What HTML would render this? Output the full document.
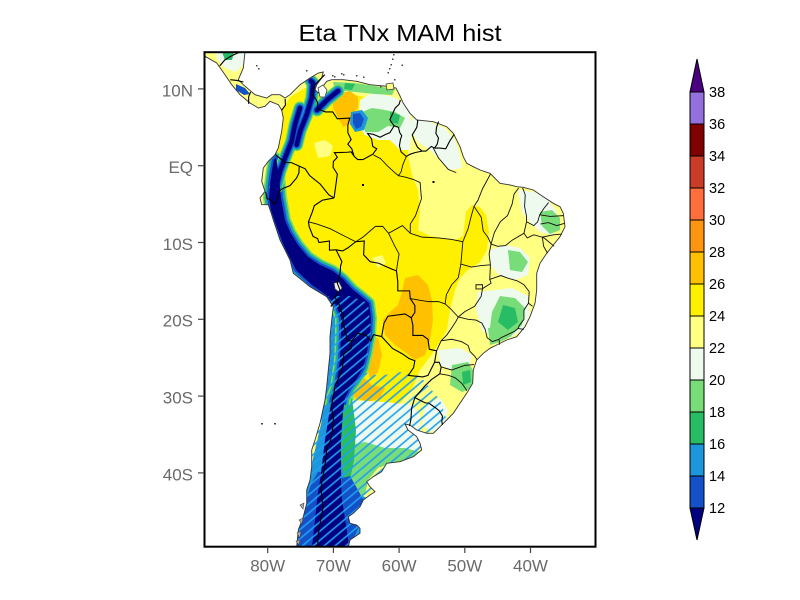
<!DOCTYPE html>
<html><head><meta charset="utf-8"><style>
html,body{margin:0;padding:0;background:#fff}
svg{display:block}
.geo path{vector-effect:non-scaling-stroke;fill:none;stroke:#000;stroke-width:1.1}
.st path{vector-effect:non-scaling-stroke;fill:none;stroke:#111;stroke-width:0.9}
</style></head><body>
<svg width="800" height="600" viewBox="0 0 800 600" xmlns="http://www.w3.org/2000/svg">
<rect width="800" height="600" fill="#fff"/>
<defs>
<clipPath id="fr"><rect x="205" y="53" width="390" height="493"/></clipPath>
<clipPath id="north"><rect x="200" y="40" width="400" height="365"/></clipPath>
<clipPath id="land"><path id="landp" d="M204,52 L245,52 L243.3,68 L238.3,79.7 L243.3,84.7 L255,94.7 L266.7,98 L271.7,94.7 L280,94.7 L285,98 L290,94.7 L300,84.7 L310,78 L318.3,73 L323.3,72 L321.7,78 L316.7,84.7 L315,89.7 L318.3,93 L321.7,88 L326.7,81.3 L331.7,79.7 L343.3,79.7 L356.7,81.3 L370,84.7 L386.7,86.3 L396,88 L400,96 L403.3,103.3 L410,113.3 L416.7,120 L433.3,121.7 L446.7,126.7 L453.3,133.3 L460,146.7 L463.3,156.7 L466.7,163.3 L473.3,166.7 L480,170 L490,173.3 L500,183.3 L510,185 L516.7,186.7 L523.3,187.3 L533.3,190 L543.3,196.7 L553.3,203.3 L560,206.7 L563.3,213.3 L565,226.7 L560,236.7 L553.3,245 L546.7,253.3 L540,263.3 L536.7,273.3 L536.7,290 L535,303.3 L530,316.7 L525,326.7 L516.7,336.7 L506.7,340 L496.7,345 L490,348.3 L483.3,353.3 L476.7,360 L473.3,370 L472.7,383.3 L466.7,393.3 L460,403.3 L453.3,413.3 L446.7,420 L440,426.7 L433.3,433.3 L426.7,433.3 L416.7,430 L410,425 L405,424 L408,430 L416.7,436.7 L420,443.3 L421.7,450 L413.3,456.7 L400,461.7 L386.7,463.3 L381.7,471.7 L373.3,476.7 L366.7,481.7 L370,486.7 L375,491.7 L370,495 L363.3,500 L360,506.7 L353.3,513.3 L348.3,516.7 L350,523.3 L356.7,525 L360,528.3 L360,533.3 L350,540 L348.3,547 L296.7,547 L298.3,530 L303.3,516.7 L306.7,503.3 L306.7,490 L310,480 L311.7,466.7 L311.7,450 L315,440 L320,423.3 L325,400 L326.7,386.7 L328.3,370 L330,353.3 L330,336.7 L331.7,320 L333.3,306.7 L326.7,296.7 L310,286.7 L303,281 L293.3,273.3 L290,260 L280,240 L273.3,220 L271.7,214.7 L268.3,204.7 L261.7,204.7 L260,198 L265,191.3 L261.7,181.3 L263.3,168 L268.3,161.3 L275,154.7 L278.3,148 L281.7,131.3 L283.3,118 L281.7,110 L278.3,104.7 L270,101.3 L265,106.3 L258.3,108 L250,103 L240,94.7 L231.7,84.7 L225,74.7 L216.7,63 L205,56.3 L204,56 Z"/></clipPath>
<pattern id="hatch" patternUnits="userSpaceOnUse" width="20" height="7" patternTransform="rotate(-40)"><rect x="0" y="2.7" width="20" height="1.6" fill="#1ea0f0"/></pattern>
<path id="andes" d="M276,158 L279,175 L281,198 L285,220 L290,232 L298,245 L308,257 L320,265 L333,271 L343,279 L352,289 L362,297 L369,303 L371,318 L370,335 L367,352 L363,368 L356,380 L350,388 L345,398 L343,412 L341,440 L341,470 L342,500 L346,525 L349,547 L312,547 L315,520 L317,500 L320,480 L322,465 L325,440 L329,415 L332,398 L336,387 L340,360 L341,335 L341,318 L336,305 L325,294 L312,285 L296,270 L290,258 L284,246 L279,233 L275,222 L271,210 L269,198 L270,185 L272,170 L274,160 Z"/>
<g id="bands">
<path d="M313,84 L311.7,98 L306.7,114.7 L300,131.3 L296.7,144.7"/>
<path d="M300,108 L295,124.7 L291.7,141.3 L285,158 L280,171.3 L276,188"/>
<path d="M317,110 L327,100 L338,91"/>
<path d="M311,81 L313,83"/>
</g>
</defs>

<text x="400" y="41" text-anchor="middle" font-family="Liberation Sans, sans-serif" font-size="23" textLength="203" lengthAdjust="spacingAndGlyphs" fill="#000">Eta TNx MAM hist</text>

<g clip-path="url(#fr)">
<g clip-path="url(#land)">
<rect x="200" y="50" width="400" height="500" fill="#ffff82"/>
<!-- yellow 24-26 -->
<path fill="#fff000" d="M281,112 L290,97 L305,88 L318,88 L328,96 L345,92 L360,96 L372,98 L385,100 L398,108 L405,118 L407,135 L408,155 L412,175 L418,190 L420,210 L418,230 L430,236 L455,240 L463,236 L466,212 L472,205 L480,207 L486,215 L489,232 L487,250 L480,262 L468,270 L460,278 L455,290 L450,310 L447,330 L438,345 L430,357 L420,370 L413,387 L403,400 L395,408 L380,412 L360,410 L345,408 L338,380 L340,340 L335,300 L320,285 L300,265 L285,240 L276,215 L270,195 L270,180 L274,165 L278,150 L279,130 Z"/>
<path fill="#ffff82" d="M314,143 L325,140 L333,146 L330,156 L318,158 Z"/>
<path fill="#ffff82" d="M372,258 L382,255 L386,263 L378,268 Z"/>
<!-- orange 26-28 -->
<g fill="#ffc000">
<path d="M335,95 L350,91 L358,97 L358,108 L352,114 L349,125 L343,127 L338,117 L333,108 L333,100 Z"/>
<path d="M405,278 L418,275 L428,285 L432,300 L433,320 L430,340 L425,355 L415,360 L405,352 L395,345 L385,335 L383,320 L390,312 L398,305 L402,292 Z"/>
<path d="M368,340 L378,338 L382,355 L378,372 L370,378 L365,360 Z"/>
<path d="M352,378 L362,376 L372,385 L385,388 L380,398 L368,402 L355,398 L350,390 Z"/>
<path d="M306,100 L311,102 L307,118 L303,128 L300,126 L303,110 Z"/>
</g>
<!-- pale green 20-22 -->
<g fill="#eefaee">
<path d="M360,100 L372,93 L390,96 L400,100 L410,112 L412,130 L410,150 L400,150 L390,140 L378,140 L365,135 L358,125 Z"/>
<path d="M412,118 L430,122 L445,128 L455,140 L460,155 L462,168 L450,170 L440,160 L430,150 L418,142 L410,130 Z"/>
<path d="M518,190 L535,192 L548,200 L556,210 L560,225 L552,235 L540,232 L530,222 L522,212 Z"/>
<path d="M490,250 L505,245 L520,248 L530,258 L528,275 L515,280 L500,276 L490,265 Z"/>
<path d="M478,292 L495,290 L512,288 L528,296 L530,315 L522,330 L510,338 L495,340 L482,330 L476,310 Z"/>
<path d="M438,350 L460,348 L472,355 L470,365 L452,370 L440,365 Z"/>
<path d="M425,405 L440,398 L448,410 L445,425 L432,432 L422,425 Z"/>
<path d="M215,52 L245,52 L243,65 L236,72 L225,68 L218,60 Z"/>
</g>
<!-- light green 18-20 -->
<g fill="#78dc78">
<path d="M333,82 L355,83 L375,86 L395,89 L392,95 L375,94 L355,92 L335,90 Z"/>
<path d="M362,112 L372,108 L385,110 L395,112 L405,118 L400,128 L388,126 L378,132 L365,132 Z"/>
<path d="M540,212 L552,210 L560,218 L560,230 L550,234 L542,226 Z"/>
<path d="M508,250 L520,252 L528,262 L522,272 L510,270 Z"/>
<path d="M500,296 L515,298 L525,308 L522,325 L512,335 L500,336 L490,328 L492,312 Z"/>
<path d="M452,365 L468,362 L474,372 L472,388 L462,392 L450,385 Z"/>
<path d="M488,328 L505,326 L512,336 L500,342 L490,345 Z"/>
</g>
<g fill="#28bd64">
<path d="M503,305 L515,308 L518,322 L508,330 L498,322 Z"/>
<path d="M345,83 L355,84 L352,90 L344,89 Z"/>
<path d="M390,112 L400,115 L398,124 L390,122 Z"/>
<path d="M222,52 L234,52 L232,60 L225,60 Z"/>
<path d="M462,372 L470,370 L471,382 L463,385 Z"/>
</g>
<path fill="#1e96dc" d="M351,112 L362,110 L368,118 L364,130 L355,132 L350,124 Z"/>
<path fill="#1450c8" d="M353,114 L360,113 L364,119 L361,127 L356,129 L353,123 Z"/>
<path fill="#1450c8" d="M236,84 L245,88 L250,94 L244,95 L236,90 Z"/>
<!-- Patagonia -->
<path fill="#1e96dc" d="M296,547 L300,510 L308,480 L315,450 L322,420 L328,400 L345,400 L346,450 L350,480 L360,495 L372,500 L370,547 Z"/>
<path fill="#eefaee" d="M350,400 L385,402 L412,405 L420,415 L421,440 L418,452 L400,448 L380,452 L360,458 L352,445 L352,420 Z"/>
<path fill="#78dc78" d="M350,445 L365,442 L385,448 L405,448 L420,452 L415,462 L395,462 L378,468 L368,480 L365,495 L355,495 L348,480 L346,460 Z"/>
<path fill="#78dc78" d="M340,383 L352,383 L354,400 L342,405 Z"/>
<path fill="#28bd64" d="M340,398 L352,398 L356,430 L354,460 L350,480 L344,480 L340,450 Z"/>
<path fill="#1450c8" d="M296,547 L300,520 L306,500 L312,482 L318,472 L322,472 L318,500 L314,547 Z"/>
<path fill="#1450c8" d="M342,478 L350,476 L358,490 L366,505 L362,520 L355,535 L350,547 L342,547 Z"/>
<!-- Chile coast strip -->
<path fill="#1e96dc" d="M322,290 L338,300 L342,320 L341,360 L338,385 L334,400 L326,420 L315,420 L320,380 L325,330 Z"/>
<!-- Andes -->
<g stroke-linejoin="round" stroke-linecap="round" fill="none">
<g clip-path="url(#north)">
<use href="#andes" stroke="#78dc78" stroke-width="12"/>
<use href="#andes" stroke="#28bd64" stroke-width="9"/>
<use href="#andes" stroke="#1e96dc" stroke-width="6.5"/>
<use href="#andes" stroke="#1450c8" stroke-width="4"/>
</g>
<use href="#bands" stroke="#78dc78" stroke-width="13"/>
<use href="#bands" stroke="#28bd64" stroke-width="11"/>
<use href="#bands" stroke="#1e96dc" stroke-width="9"/>
<use href="#bands" stroke="#1450c8" stroke-width="7"/>
<use href="#bands" stroke="#000080" stroke-width="4.5"/>
</g>
<use href="#andes" fill="#000080"/>
<!-- hatch -->
<path fill="url(#hatch)" d="M328,296 L350,296 L368,303 L371,330 L368,355 L363,372 L380,376 L400,372 L420,376 L440,400 L450,430 L440,440 L425,460 L400,470 L380,500 L375,547 L296,547 L300,500 L310,460 L318,430 L325,400 L328,370 L330,330 Z"/>
</g>
<!-- coastline -->
<use href="#landp" fill="none" stroke="#333" stroke-width="0.9"/>
<!-- lakes -->
<path d="M318,88 L323,85 L327,90 L325,97 L320,97 Z" fill="#fff" stroke="#444" stroke-width="0.8"/>
<path d="M334,283 L339,282 L342,288 L339,292 L335,289 Z" fill="#eee" stroke="#444" stroke-width="0.8"/>
<path d="M386,84 L393,83 L394,89 L387,90 Z" fill="#ffff82" stroke="#444" stroke-width="0.8"/>
<g fill="#444">
<rect x="387.5" y="72" width="1.5" height="1.5"/><rect x="390.5" y="64" width="1.5" height="1.5"/><rect x="392" y="58.5" width="1.5" height="1.5"/><rect x="393" y="54" width="1.5" height="1.5"/><rect x="394" y="79" width="1.5" height="1.5"/><rect x="401.5" y="64.5" width="1.5" height="1.5"/><rect x="389" y="68" width="1.5" height="1.5"/>
<rect x="332" y="75" width="1.5" height="1.5"/><rect x="334" y="76" width="1.5" height="1.5"/><rect x="341" y="73" width="1.5" height="1.5"/><rect x="343" y="74" width="1.5" height="1.5"/><rect x="356" y="75" width="1.5" height="1.5"/><rect x="363" y="76.5" width="1.5" height="1.5"/><rect x="380" y="86" width="1.5" height="1.5"/>
<rect x="256" y="65" width="1.5" height="1.5"/><rect x="258" y="68" width="1.5" height="1.5"/><rect x="306" y="70" width="1.5" height="1.5"/>
<rect x="261" y="423" width="2" height="1.5"/><rect x="274" y="423" width="2" height="1.5"/>
</g>
<g fill="#000"><rect x="362" y="184" width="2" height="2"/><rect x="432.5" y="181" width="2" height="2"/></g>
<g fill="#aaa" stroke="#444" stroke-width="0.6">
<path d="M299,520 L303,518 L302,524 Z"/><path d="M297,533 L301,531 L300,538 Z"/><path d="M300,505 L304,503 L303,509 Z"/><path d="M296,541 L300,540 L299,545 Z"/>
</g>
<!-- borders -->
<g class="geo" transform="matrix(6.57,0,0,-7.68,793.3,165.7)">
<path d="M-71.3,11.85 L-72.2,11.1 L-72.9,10.4 L-73.1,9.2 L-72.7,8.7 L-72.4,8.2 L-72.4,7.4 L-71.2,7 L-70.1,7 L-69.4,6.1 L-67.5,6.2 L-67.8,5.3 L-67.8,4.3 L-67.3,3.4 L-67.8,2.8 L-67.2,2.2 L-66.85,1.22"/>
<path d="M-66.85,1.22 L-67.3,1.8 L-67.9,1.75 L-69.85,1.7 L-69.4,1.1 L-70,0.55 L-70.05,-0.2 L-69.4,-1.1 L-69.9,-4.2"/>
<path d="M-69.9,-4.2 L-70.7,-3.8 L-72,-2.4 L-73.6,-1.3 L-74.3,-0.4 L-75.2,-0.05"/>
<path d="M-75.2,-0.05 L-76.4,0.4 L-77.4,0.4 L-77.9,0.8 L-78.85,1.45"/>
<path d="M-75.2,-0.05 L-75.25,-0.95 L-75.6,-1.6 L-76.6,-2.6 L-77.8,-3 L-78.3,-3.4 L-78.6,-4.6 L-79,-5 L-79.6,-4.4 L-80.1,-4.3 L-80.3,-3.4"/>
<path d="M-69.9,-4.2 L-71.7,-4.5 L-72.9,-5.2 L-73.2,-6 L-73.8,-7.3 L-73.7,-7.9 L-73.1,-9.2 L-72.4,-9.5 L-72.2,-10 L-70.6,-9.8 L-70.6,-11 L-69.6,-10.95"/>
<path d="M-69.6,-10.95 L-68.7,-12.5 L-68.9,-13 L-69,-14.1 L-69.4,-15.3 L-69,-16.2 L-69.4,-16.7 L-69.8,-17.1 L-69.5,-17.5"/>
<path d="M-69.5,-17.5 L-70,-17.9 L-70.4,-18.35"/>
<path d="M-69.5,-17.5 L-69.1,-18.1 L-68.9,-18.9 L-68.4,-19.4 L-68.6,-20.5 L-68.2,-21.4 L-67.9,-22.8 L-67.2,-22.8"/>
<path d="M-67.2,-22.8 L-66.3,-21.8 L-65,-22.1 L-64.3,-22.8 L-63.9,-22 L-62.65,-22.25"/>
<path d="M-67.2,-22.8 L-67.3,-23.8 L-68.4,-24.5 L-68.6,-26.2 L-69,-27.3 L-69.7,-28.5 L-70,-30 L-70.3,-31.3 L-70,-33 L-70.1,-34.2 L-70.4,-35.7 L-71,-36.8 L-71.2,-38.5 L-71.6,-40.5 L-71.9,-42 L-71.7,-43.6 L-71.6,-44.6 L-71.9,-46 L-72.2,-47.5 L-72.4,-48.5 L-72.3,-50.2"/>
<path d="M-69.6,-10.95 L-68.6,-11.1 L-67.8,-10.7 L-66.6,-9.9 L-65.3,-9.8 L-65.4,-11.6 L-64.4,-12.5 L-63.1,-12.7 L-62.1,-13.1 L-61,-13.5 L-60.4,-13.7 L-60.2,-15.1 L-60.2,-16.3 L-58.4,-16.3 L-58.3,-17.3 L-57.6,-18.2 L-57.6,-19.1 L-58.15,-19.8"/>
<path d="M-58.15,-19.8 L-59.1,-19.3 L-61.7,-19.6 L-62.3,-20.5 L-62.65,-22.25"/>
<path d="M-62.65,-22.25 L-61,-23.8 L-59.5,-24.5 L-58.5,-25.1 L-57.6,-25.4 L-57.8,-26.3 L-58.6,-27.3 L-56.4,-27.5 L-55.6,-27.3 L-54.6,-25.6"/>
<path d="M-54.6,-25.6 L-54.3,-24.1 L-55.4,-23.9 L-55.6,-22.6 L-56.4,-22.1 L-57.9,-22.1 L-57.9,-20.8 L-58.15,-19.8"/>
<path d="M-54.6,-25.6 L-53.9,-25.6 L-53.6,-26.2 L-53.8,-27.1 L-55,-27.8 L-56,-28.6 L-57.6,-30.2"/>
<path d="M-57.6,-30.2 L-56,-30.9 L-55.5,-30.9 L-54.5,-31.5 L-53.9,-31.9 L-53.4,-32.6 L-53.5,-33.3 L-53.4,-33.75"/>
<path d="M-57.6,-30.2 L-58.1,-31.6 L-58.2,-33 L-58.4,-33.9"/>
<path d="M-59.8,8.55 L-60,8 L-60.6,7.5 L-61.4,6 L-61.2,5.7 L-60.75,5.2"/>
<path d="M-60.75,5.2 L-61.4,4.3 L-62,4.1 L-62.9,3.7 L-63.4,3.9 L-64,4.1 L-64.8,4.2 L-64.2,3.5 L-64,2.5 L-63.4,2.2 L-64,1.5 L-65.5,0.8 L-66.3,0.8 L-66.85,1.22"/>
<path d="M-60.75,5.2 L-60.1,5 L-59.9,4.3 L-59.6,3.9 L-59.8,3.4 L-59.95,2.6 L-59.7,1.8 L-58.9,1.2 L-58.3,1.5 L-57.6,1.7 L-56.5,1.9"/>
<path d="M-57.15,5.95 L-57.3,5 L-58,4 L-57.7,3.3 L-57.2,2.4 L-56.5,1.9"/>
<path d="M-56.5,1.9 L-55.9,1.9 L-55.1,2.5 L-54.6,2.3"/>
<path d="M-54,5.75 L-54.3,5 L-54.4,4.2 L-54,3.6 L-54.2,2.8 L-54.6,2.3"/>
<path d="M-54.6,2.3 L-53.8,2.3 L-52.9,2.2 L-52.3,3.2 L-51.6,4.1"/>
<path d="M-77.9,7.2 L-77.3,7.9 L-77.35,8.7"/>
<path d="M-82.9,8.05 L-82.9,9 L-82.6,9.6"/>
<path d="M-85.7,11.2 L-84.7,11.1 L-83.7,10.9"/>
<path d="M-87.3,13 L-86.5,13.8 L-85.5,14.3 L-84.5,14.7 L-83.2,15"/>
</g>
<g class="st" transform="matrix(6.57,0,0,-7.68,793.3,165.7)">
<path d="M-63.9,1.4 L-62.8,0.9 L-61.8,0 L-60.8,-0.8 L-60.1,-1.3 L-59.7,-0.8 L-59.4,0.2 L-58.9,1.2"/>
<path d="M-60.1,-1.3 L-59,-1.5 L-57.8,-1.8 L-56.8,-2.2 L-56.6,-4.3 L-57.5,-6.5 L-58.3,-7.6 L-58.3,-8.8"/>
<path d="M-73.8,-7.3 L-72.5,-7.6 L-70.5,-8.2 L-68,-9.3 L-66.6,-9.9"/>
<path d="M-66.6,-9.9 L-65.5,-9.3 L-63.6,-7.9 L-62.5,-7.9 L-61.6,-8.8 L-59.5,-7.8 L-58.3,-8.8"/>
<path d="M-61.6,-8.8 L-60.7,-10.4 L-60,-11.5 L-60.2,-12.5 L-60.4,-13.7"/>
<path d="M-58.3,-8.8 L-56.5,-9.3 L-54,-9.4 L-52,-9.6 L-50.3,-9.9"/>
<path d="M-50.3,-9.9 L-49.5,-8.2 L-49,-6.5 L-48.6,-5.3"/>
<path d="M-50.3,-9.9 L-50.6,-12.8 L-49,-13.2 L-47.5,-13 L-46.1,-12.9"/>
<path d="M-48.6,-5.3 L-47.5,-6.7 L-47.2,-8.5 L-46.5,-9.3 L-46,-10.2 L-46.3,-11.5 L-46.1,-12.9"/>
<path d="M-48.6,-5.3 L-48,-4.5 L-47.3,-3 L-46.1,-1.1"/>
<path d="M-54.8,2.3 L-54,1 L-52.5,-0.5 L-51.3,-0.9"/>
<path d="M-41.8,-2.9 L-42.5,-3.7 L-42.8,-5 L-43.5,-6.5 L-44.6,-7.3 L-45.5,-8.7 L-46,-10.2"/>
<path d="M-41.2,-2.9 L-40.8,-3.8 L-40.9,-5.3 L-40.6,-6.6 L-40.6,-7.3 L-41,-8.8 L-42.8,-9.7 L-43.8,-10.4 L-45,-10.5 L-46,-10.2"/>
<path d="M-37.25,-4.8 L-38,-5.6 L-38.6,-6.4 L-38.9,-7.3 L-39.5,-7.8 L-40.6,-7.3"/>
<path d="M-35,-6.5 L-37,-6.6 L-38.6,-6.4"/>
<path d="M-34.8,-7.5 L-36,-7.8 L-37.3,-7.4 L-38.5,-7.6"/>
<path d="M-35.2,-8.9 L-36.5,-9 L-38.2,-9.3 L-39.5,-9 L-40.5,-9.4 L-41,-8.8"/>
<path d="M-36.4,-10.5 L-37.8,-9.5 L-38.2,-9.3"/>
<path d="M-37.4,-11.4 L-38,-10.5 L-38.2,-9.3"/>
<path d="M-46.1,-12.9 L-46.2,-14.8 L-44.5,-14.3 L-43.6,-14.6 L-42,-15 L-41,-15.5 L-40.2,-16.4 L-40.3,-17.9 L-39.7,-18.3"/>
<path d="M-40.3,-17.9 L-41,-18.8 L-41,-20 L-41.7,-20.8 L-41.9,-21.2 L-41,-21.3"/>
<path d="M-41.9,-21.2 L-42.5,-21.6 L-43.5,-22 L-44.5,-22.4 L-44.8,-22.6 L-44.7,-23.3"/>
<path d="M-44.8,-22.6 L-45.8,-22.9 L-46.6,-22.4 L-46.9,-21.3 L-47.4,-20.5 L-48.3,-20.1 L-49.5,-20 L-51,-19.7"/>
<path d="M-51,-19.7 L-50,-19 L-48.5,-18.3 L-47.5,-17 L-47.3,-16 L-46,-15.3 L-46.2,-14.8"/>
<path d="M-51,-19.7 L-51.3,-20.2 L-51.9,-21 L-52.7,-22 L-53.6,-22.8 L-54.3,-24.1"/>
<path d="M-51,-19.7 L-52.2,-18.6 L-53,-18 L-54,-17.7 L-55.5,-17.7 L-57,-17.5 L-58.3,-17.3"/>
<path d="M-50.6,-12.8 L-51,-14.6 L-52,-15.5 L-52.8,-16.8 L-53,-18"/>
<path d="M-53.6,-22.8 L-52,-22.6 L-50.5,-22.9 L-49.5,-23.4 L-49.2,-24.2 L-48.5,-24.8 L-48.1,-25.3"/>
<path d="M-53.6,-26.2 L-52,-26.6 L-51,-26.3 L-50,-26 L-48.6,-25.9"/>
<path d="M-53.8,-27.1 L-52.5,-27.3 L-51.5,-27.6 L-50.5,-28.3 L-49.9,-29 L-49.7,-29.3"/>
<path d="M-48.3,-15.5 L-47.3,-15.5 L-47.3,-16.05 L-48.3,-16.05 Z"/>
</g>
</g>

<!-- frame -->
<rect x="204.5" y="52.2" width="391" height="494.5" fill="none" stroke="#000" stroke-width="2"/>
<g stroke="#444" stroke-width="1.2">
<line x1="198" y1="88.9" x2="204" y2="88.9"/>
<line x1="198" y1="165.7" x2="204" y2="165.7"/>
<line x1="198" y1="242.5" x2="204" y2="242.5"/>
<line x1="198" y1="319.3" x2="204" y2="319.3"/>
<line x1="198" y1="396.1" x2="204" y2="396.1"/>
<line x1="198" y1="472.9" x2="204" y2="472.9"/>
<line x1="267.7" y1="547" x2="267.7" y2="553"/>
<line x1="333.4" y1="547" x2="333.4" y2="553"/>
<line x1="399.1" y1="547" x2="399.1" y2="553"/>
<line x1="464.8" y1="547" x2="464.8" y2="553"/>
<line x1="530.5" y1="547" x2="530.5" y2="553"/>
</g>
<g font-family="Liberation Sans, sans-serif" font-size="17" fill="#6a6a6a" text-anchor="end">
<text x="193" y="96.3">10N</text>
<text x="193" y="173.1">EQ</text>
<text x="193" y="249.9">10S</text>
<text x="193" y="326.7">20S</text>
<text x="193" y="403.5">30S</text>
<text x="193" y="480.3">40S</text>
</g>
<g font-family="Liberation Sans, sans-serif" font-size="17" fill="#6a6a6a" text-anchor="middle">
<text x="267.7" y="571.5">80W</text>
<text x="333.4" y="571.5">70W</text>
<text x="399.1" y="571.5">60W</text>
<text x="464.8" y="571.5">50W</text>
<text x="530.5" y="571.5">40W</text>
</g>

<!-- colorbar -->
<g stroke="#000" stroke-width="1">
<polygon points="690,92 704,92 697,59" fill="#4b0082"/>
<rect x="690" y="92" width="14" height="32" fill="#9370db"/>
<rect x="690" y="124" width="14" height="32" fill="#800000"/>
<rect x="690" y="156" width="14" height="32" fill="#c83c28"/>
<rect x="690" y="188" width="14" height="32" fill="#ff6e3c"/>
<rect x="690" y="220" width="14" height="32" fill="#ff9410"/>
<rect x="690" y="252" width="14" height="32" fill="#ffc000"/>
<rect x="690" y="284" width="14" height="32" fill="#fff000"/>
<rect x="690" y="316" width="14" height="32" fill="#ffff82"/>
<rect x="690" y="348" width="14" height="32" fill="#eefaee"/>
<rect x="690" y="380" width="14" height="32" fill="#78dc78"/>
<rect x="690" y="412" width="14" height="32" fill="#28bd64"/>
<rect x="690" y="444" width="14" height="32" fill="#1e96dc"/>
<rect x="690" y="476" width="14" height="32" fill="#1450c8"/>
<polygon points="690,508 704,508 697,540" fill="#000080"/>
</g>
<g font-family="Liberation Sans, sans-serif" font-size="14.5" fill="#000">
<text x="709" y="97">38</text>
<text x="709" y="129">36</text>
<text x="709" y="161">34</text>
<text x="709" y="193">32</text>
<text x="709" y="225">30</text>
<text x="709" y="257">28</text>
<text x="709" y="289">26</text>
<text x="709" y="321">24</text>
<text x="709" y="353">22</text>
<text x="709" y="385">20</text>
<text x="709" y="417">18</text>
<text x="709" y="449">16</text>
<text x="709" y="481">14</text>
<text x="709" y="513">12</text>
</g>
</svg>
</body></html>
